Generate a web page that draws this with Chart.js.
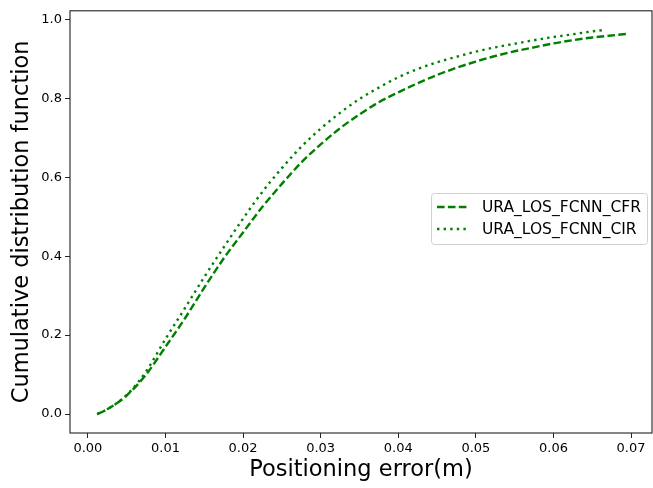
<!DOCTYPE html>
<html>
<head>
<meta charset="utf-8">
<script src="https://cdn.jsdelivr.net/npm/chart.js@4/dist/chart.umd.min.js"></script>
<style>
  html, body { margin: 0; padding: 0; background: #fff; }
  #wrap { width: 653px; height: 488px; }
</style>
</head>
<body>
<div id="wrap"><canvas id="cdf" width="653" height="488"></canvas></div>
<script>
// 数据
const seriesNames = ['URA_LOS_FCNN_CFR', 'URA_LOS_FCNN_CIR'];

const cfrErr = [0.0012, 0.0025, 0.005, 0.0075, 0.01, 0.0125, 0.015, 0.0175, 0.02, 0.0225,
  0.025, 0.0275, 0.03, 0.0325, 0.035, 0.0375, 0.04, 0.0425, 0.045, 0.0475,
  0.05, 0.0525, 0.055, 0.0575, 0.06, 0.0625, 0.065, 0.0675, 0.0695];
const cfrCdf = [0.0, 0.012, 0.047, 0.1, 0.17, 0.242, 0.32, 0.394, 0.46, 0.525,
  0.583, 0.637, 0.683, 0.724, 0.759, 0.79, 0.815, 0.838, 0.859, 0.877,
  0.893, 0.907, 0.919, 0.929, 0.939, 0.947, 0.954, 0.959, 0.963];

const cirErr = [0.0012, 0.0025, 0.005, 0.0075, 0.01, 0.0125, 0.015, 0.0175, 0.02, 0.0225,
  0.025, 0.0275, 0.03, 0.0325, 0.035, 0.0375, 0.04, 0.0425, 0.045, 0.0475,
  0.05, 0.0525, 0.055, 0.0575, 0.06, 0.0625, 0.0645, 0.0665];
const cirCdf = [0.0, 0.012, 0.048, 0.108, 0.19, 0.268, 0.347, 0.422, 0.495, 0.563,
  0.623, 0.677, 0.723, 0.763, 0.798, 0.827, 0.853, 0.874, 0.891, 0.905,
  0.918, 0.929, 0.938, 0.947, 0.955, 0.962, 0.968, 0.973];

const xTicks = [0, 0.01, 0.02, 0.03, 0.04, 0.05, 0.06, 0.07];
const yTicks = [0, 0.2, 0.4, 0.6, 0.8, 1.0];

const GREEN = '#008000';
const FONT = "'DejaVu Sans', sans-serif";

function toPoints(xs, ys) {
  return xs.map((x, i) => ({ x: x, y: ys[i] }));
}

// 边框 + 图例
const framePlugin = {
  id: 'frame',
  afterDraw(chart) {
    const { ctx, chartArea: a } = chart;
    ctx.save();
    ctx.strokeStyle = '#222';
    ctx.lineWidth = 1.1;
    ctx.strokeRect(a.left, a.top, a.right - a.left, a.bottom - a.top);

    // 图例框
    ctx.beginPath();
    ctx.roundRect(431.5, 193.5, 216, 51, 3);
    ctx.fillStyle = 'rgba(255,255,255,0.8)';
    ctx.fill();
    ctx.strokeStyle = '#d0d0d0';
    ctx.lineWidth = 1;
    ctx.stroke();

    const rows = [207, 229];
    chart.data.datasets.forEach((ds, i) => {
      ctx.beginPath();
      ctx.setLineDash(ds.borderDash);
      ctx.strokeStyle = ds.borderColor;
      ctx.lineWidth = ds.borderWidth;
      ctx.moveTo(437, rows[i]);
      ctx.lineTo(468, rows[i]);
      ctx.stroke();
      ctx.setLineDash([]);
      ctx.fillStyle = '#000';
      ctx.font = '15.5px ' + FONT;
      ctx.textBaseline = 'middle';
      ctx.textAlign = 'left';
      ctx.fillText(ds.label, 482, rows[i] + 1);
    });
    ctx.restore();
  }
};

new Chart(document.getElementById('cdf'), {
  type: 'line',
  data: {
    datasets: [
      {
        label: seriesNames[0],
        data: toPoints(cfrErr, cfrCdf),
        borderColor: GREEN,
        borderWidth: 2.4,
        borderDash: [7.6, 3.3],
        pointRadius: 0,
        cubicInterpolationMode: 'monotone',
        fill: false
      },
      {
        label: seriesNames[1],
        data: toPoints(cirErr, cirCdf),
        borderColor: GREEN,
        borderWidth: 2.4,
        borderDash: [2.4, 4.2],
        pointRadius: 0,
        cubicInterpolationMode: 'monotone',
        fill: false
      }
    ]
  },
  options: {
    responsive: false,
    animation: false,
    layout: { padding: { top: 6, right: 1, left: 0, bottom: 0 } },
    plugins: { legend: { display: false }, tooltip: { enabled: false } },
    scales: {
      x: {
        type: 'linear',
        min: -0.0023,
        max: 0.0727,
        afterBuildTicks: s => { s.ticks = xTicks.map(v => ({ value: v })); },
        afterFit: s => { s.height = 55; },
        grid: { drawOnChartArea: false, drawTicks: true, tickLength: 5, color: '#222' },
        border: { display: false },
        ticks: {
          color: '#000',
          padding: 3,
          maxRotation: 0,
          font: { family: FONT, size: 13 },
          callback: v => v.toFixed(2)
        },
        title: {
          display: true,
          text: 'Positioning error(m)',
          color: '#000',
          font: { family: FONT, size: 22.5 },
          padding: { top: 0, bottom: 4.5 }
        }
      },
      y: {
        type: 'linear',
        min: -0.048,
        max: 1.0215,
        afterBuildTicks: s => { s.ticks = yTicks.map(v => ({ value: v })); },
        afterFit: s => { s.width = 70; },
        grid: { drawOnChartArea: false, drawTicks: true, tickLength: 5, color: '#222' },
        border: { display: false },
        ticks: {
          color: '#000',
          padding: 3,
          font: { family: FONT, size: 13 },
          callback: v => v.toFixed(1)
        },
        title: {
          display: true,
          text: 'Cumulative distribution function',
          color: '#000',
          font: { family: FONT, size: 22.5 },
          padding: { top: 9, bottom: 0 }
        }
      }
    }
  },
  plugins: [framePlugin]
});
</script>
</body>
</html>
